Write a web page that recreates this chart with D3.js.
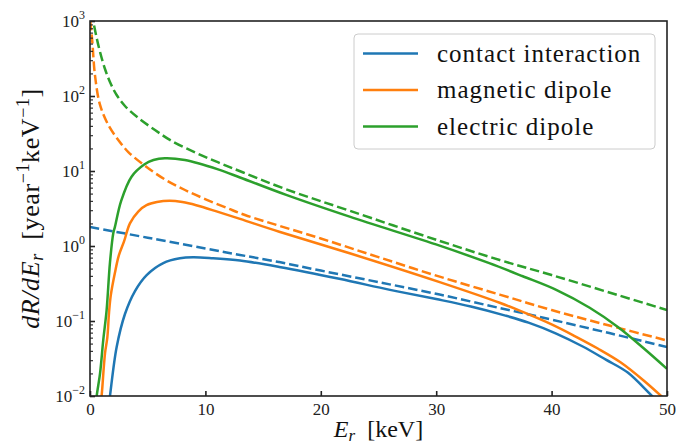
<!DOCTYPE html>
<html>
<head>
<meta charset="utf-8">
<script src="https://cdn.jsdelivr.net/npm/d3@7"></script>
<style>
  body { margin: 0; background: #fff; }
  svg { display: block; }
  text { font-family: "Liberation Serif", "DejaVu Serif", serif; }
</style>
</head>
<body>
<div id="chart"></div>
<script>
// values (recoil energy in keV, rate in /year/keV)
const contactE = [1.6, 1.73, 2.31, 3.03, 3.9, 4.91, 6.35, 7.79, 8.94, 10.67, 13, 16.4, 21.6, 26, 30, 33, 36, 38, 40.4, 42.7, 44.7, 46.6, 48.7, 49.2];
const contactRate = [0.007, 0.01, 0.045, 0.124, 0.251, 0.41, 0.593, 0.685, 0.706, 0.685, 0.64, 0.525, 0.365, 0.26, 0.196, 0.156, 0.118, 0.095, 0.068, 0.0457, 0.0305, 0.0205, 0.01, 0.0085];

const contactBgE = [0, 5, 10, 13, 16.4, 20, 25, 30.3, 35.5, 38.9, 45, 50];
const contactBgRate = [1.79, 1.29, 0.925, 0.76, 0.61, 0.47, 0.33, 0.225, 0.149, 0.114, 0.069, 0.045];

const magneticE = [0.95, 1.05, 1.3, 1.5, 1.65, 1.8, 2.16, 2.5, 2.95, 3.46, 4.2, 4.9, 5.8, 6.9, 8, 9.2, 11.1, 13, 16.4, 22.5, 30.3, 35.5, 37.5, 40, 42, 44, 46, 48, 50];
const magneticRate = [0.008, 0.012, 0.037, 0.06, 0.13, 0.22, 0.44, 0.75, 1.15, 2.0, 2.9, 3.5, 3.85, 4.0, 3.85, 3.5, 2.85, 2.3, 1.55, 0.8, 0.33, 0.175, 0.132, 0.09, 0.063, 0.043, 0.028, 0.016, 0.0085];

const magneticBgE = [0.02, 0.087, 0.2, 0.43, 0.87, 1.59, 2.45, 3.32, 4.77, 6.5, 8.23, 9.97, 11.98, 13.43, 20, 25, 30.3, 35.5, 40, 45, 50];
const magneticBgRate = [1000, 800, 530, 190, 76, 41, 25.9, 17.9, 11.7, 7.7, 5.58, 4.23, 3.16, 2.59, 1.26, 0.71, 0.39, 0.225, 0.14, 0.087, 0.055];

const electricE = [0.5, 0.58, 0.87, 1.15, 1.44, 1.73, 2.02, 2.16, 2.7, 3.6, 4.7, 5.5, 6.49, 8.22, 11.1, 13, 17, 22.5, 30.3, 34.6, 37.5, 40.4, 43.3, 45.8, 48, 50];
const electricRate = [0.007, 0.01, 0.02, 0.056, 0.14, 0.6, 1.49, 1.8, 4.0, 8.4, 12.2, 14.0, 14.8, 14, 10.5, 8.2, 4.8, 2.46, 1.01, 0.59, 0.395, 0.26, 0.15, 0.082, 0.043, 0.023];

const electricBgE = [0.1, 0.29, 0.58, 0.87, 1.3, 1.73, 2.31, 3.03, 4.19, 5.63, 7.08, 9.1, 11.12, 13.28, 17, 22.5, 30.3, 35.5, 40, 45, 50];
const electricBgRate = [1300, 970, 593, 386, 229, 154, 103, 73.6, 50.9, 35.2, 25.1, 17.7, 13.0, 9.55, 5.7, 2.95, 1.17, 0.65, 0.41, 0.24, 0.14];

const seriesNames = ["contact interaction", "magnetic dipole", "electric dipole"];
const seriesColors = ["#1f77b4", "#ff7f0e", "#2ca02c"];

const xTicks = [0, 10, 20, 30, 40, 50];
const yDecades = [1e-2, 1e-1, 1e0, 1e1, 1e2, 1e3];
const yExponents = ["\u22122", "\u22121", "0", "1", "2", "3"];

const width = 676, height = 446;
const marginTop = 21, marginRight = 9, marginBottom = 50, marginLeft = 90;

const x = d3.scaleLinear([0, 50], [marginLeft, width - marginRight]);
const y = d3.scaleLog([1e-2, 1e3], [height - marginBottom, marginTop]);

const svg = d3.select("#chart").append("svg")
  .attr("width", width)
  .attr("height", height);

svg.append("defs").append("clipPath").attr("id", "plot-clip")
  .append("rect")
    .attr("x", marginLeft).attr("y", marginTop)
    .attr("width", width - marginLeft - marginRight)
    .attr("height", height - marginTop - marginBottom);

// curves
const line = d3.line()
  .x(d => x(d[0]))
  .y(d => y(d[1]))
  .curve(d3.curveCatmullRom.alpha(0.5));

const curves = [
  { e: contactBgE, r: contactBgRate, c: 0, dashed: true },
  { e: magneticBgE, r: magneticBgRate, c: 1, dashed: true },
  { e: electricBgE, r: electricBgRate, c: 2, dashed: true },
  { e: contactE, r: contactRate, c: 0, dashed: false },
  { e: magneticE, r: magneticRate, c: 1, dashed: false },
  { e: electricE, r: electricRate, c: 2, dashed: false },
];

const plot = svg.append("g").attr("clip-path", "url(#plot-clip)");
plot.selectAll("path")
  .data(curves)
  .join("path")
    .attr("fill", "none")
    .attr("stroke", d => seriesColors[d.c])
    .attr("stroke-width", 2.5)
    .attr("stroke-dasharray", d => d.dashed ? "9.5,4" : null)
    .attr("d", d => line(d.e.map((v, i) => [v, d.r[i]])));

// x axis, ticks pointing in
svg.append("g")
  .attr("transform", `translate(0,${height - marginBottom})`)
  .call(d3.axisBottom(x).tickValues(xTicks).tickSize(-5).tickPadding(7).tickFormat(d3.format("d")))
  .call(g => g.attr("font-family", null))
  .call(g => g.select(".domain").remove())
  .call(g => g.selectAll("line").attr("stroke", "#222").attr("stroke-width", 1.6))
  .call(g => g.selectAll("text")
    .attr("fill", "#222")
    .style("font-size", "17px"));

// y axis: major and minor log ticks
const minorTicks = [];
for (const d of yDecades.slice(0, -1)) {
  for (let k = 2; k <= 9; k++) minorTicks.push(d * k);
}

svg.append("g")
  .attr("transform", `translate(${marginLeft},0)`)
  .call(d3.axisLeft(y).tickValues(minorTicks).tickSize(-3).tickFormat(""))
  .call(g => g.select(".domain").remove())
  .call(g => g.selectAll("line").attr("stroke", "#222").attr("stroke-width", 1.1));

svg.append("g")
  .attr("transform", `translate(${marginLeft},0)`)
  .call(d3.axisLeft(y).tickValues(yDecades).tickSize(-5).tickFormat(""))
  .call(g => g.select(".domain").remove())
  .call(g => g.selectAll("line").attr("stroke", "#222").attr("stroke-width", 1.6));

const yLabels = svg.append("g")
  .selectAll("text")
  .data(yDecades)
  .join("text")
    .attr("x", marginLeft - 5)
    .attr("y", d => y(d) + 6)
    .attr("text-anchor", "end")
    .attr("fill", "#222")
    .style("font-size", "17px");
yLabels.append("tspan").text("10");
yLabels.append("tspan")
  .attr("dy", -8)
  .style("font-size", "12px")
  .text((d, i) => yExponents[i]);

// frame
svg.append("rect")
  .attr("x", marginLeft).attr("y", marginTop)
  .attr("width", width - marginLeft - marginRight)
  .attr("height", height - marginTop - marginBottom)
  .attr("fill", "none")
  .attr("stroke", "#222")
  .attr("stroke-width", 1.6);

// axis titles
const xTitle = svg.append("text")
  .attr("x", (marginLeft + width - marginRight) / 2)
  .attr("y", 437)
  .attr("text-anchor", "middle")
  .attr("fill", "#111")
  .style("font-size", "24px");
xTitle.append("tspan").style("font-style", "italic").text("E");
xTitle.append("tspan").style("font-style", "italic").style("font-size", "17px").attr("dy", 4).text("r");
xTitle.append("tspan").attr("dy", -4).text("\u2002[keV]");

const yTitle = svg.append("text")
  .attr("transform", `translate(39,${(marginTop + height - marginBottom) / 2}) rotate(-90)`)
  .attr("text-anchor", "middle")
  .attr("fill", "#111")
  .style("font-size", "26px")
  .style("letter-spacing", "0.6px");
yTitle.append("tspan").style("font-style", "italic").text("dR/dE");
yTitle.append("tspan").style("font-style", "italic").style("font-size", "18px").attr("dy", 4).text("r");
yTitle.append("tspan").attr("dy", -4).text("\u2002[year");
yTitle.append("tspan").style("font-size", "18px").attr("dy", -10).text("\u22121");
yTitle.append("tspan").attr("dy", 10).text("keV");
yTitle.append("tspan").style("font-size", "18px").attr("dy", -10).text("\u22121");
yTitle.append("tspan").attr("dy", 10).text("]");

// legend
const legend = svg.append("g");
legend.append("rect")
  .attr("x", 354).attr("y", 34)
  .attr("width", 301).attr("height", 115)
  .attr("rx", 4)
  .attr("fill", "#fff")
  .attr("fill-opacity", 0.8)
  .attr("stroke", "#ccc")
  .attr("stroke-width", 1);

const legendY = d3.scalePoint(seriesNames, [53.5, 126.5]);
const items = legend.selectAll("g.item")
  .data(seriesNames)
  .join("g")
    .attr("class", "item")
    .attr("transform", d => `translate(0,${legendY(d)})`);
items.append("line")
  .attr("x1", 363).attr("x2", 418)
  .attr("stroke", (d, i) => seriesColors[i])
  .attr("stroke-width", 2.5);
items.append("text")
  .attr("x", 437)
  .attr("y", 8)
  .attr("fill", "#111")
  .style("font-size", "25px")
  .style("letter-spacing", "1px")
  .text(d => d);
</script>
</body>
</html>
